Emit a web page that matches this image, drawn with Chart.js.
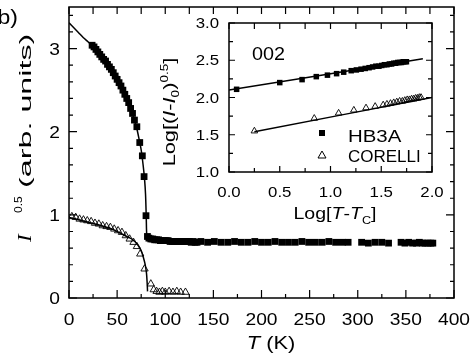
<!DOCTYPE html>
<html>
<head>
<meta charset="utf-8">
<script src="https://cdn.jsdelivr.net/npm/chart.js@4.4.1/dist/chart.umd.min.js"></script>
<style>
    html, body { margin: 0; padding: 0; background: #fff; }
    #wrap { position: relative; width: 470px; height: 354px; }
    #mainChart { position: absolute; left: 0; top: 0; }
    #insetChart { position: absolute; left: 150px; top: 10px; }
</style>
</head>
<body>
<div id="wrap">
    <canvas id="mainChart" width="470" height="354"></canvas>
    <canvas id="insetChart" width="300" height="225"></canvas>
</div>
<script>
// ---- main panel: I^0.5 vs T ----
const hb3aT = [
    24, 26, 28, 30, 32, 34, 36, 38, 40, 42,
    44, 46, 48, 50, 52, 54, 56, 58, 60, 62,
    64, 66, 68, 70.5, 73.5, 76.2, 78, 80, 81.5, 83,
    85, 87, 89, 91, 93, 95, 97, 99, 101, 103,
    105, 107, 109, 111, 113, 115, 117, 119, 121, 123,
    125, 127, 129, 131, 133, 137, 144, 151, 158, 165,
    172, 179, 186, 193, 200, 207, 214, 221, 228, 235,
    242, 249, 256, 263, 270, 277, 284, 290, 304, 311,
    318, 325, 332, 345, 349, 353, 357, 361, 364, 367,
    370, 373, 376, 378
];
const hb3aI = [
    3.04, 3.02, 2.99, 2.96, 2.93, 2.90, 2.87, 2.85, 2.81, 2.78,
    2.75, 2.71, 2.67, 2.63, 2.59, 2.55, 2.50, 2.45, 2.40, 2.35,
    2.28, 2.22, 2.14, 2.06, 1.87, 1.71, 1.46, 0.99, 0.74, 0.72,
    0.71, 0.71, 0.70, 0.70, 0.70, 0.69, 0.69, 0.69, 0.69, 0.69,
    0.68, 0.68, 0.68, 0.68, 0.68, 0.68, 0.68, 0.68, 0.68, 0.68,
    0.68, 0.67, 0.68, 0.67, 0.67, 0.68, 0.67, 0.68, 0.67, 0.67,
    0.68, 0.67, 0.67, 0.68, 0.67, 0.67, 0.68, 0.67, 0.67, 0.67,
    0.68, 0.67, 0.67, 0.67, 0.68, 0.67, 0.67, 0.67, 0.67, 0.66,
    0.67, 0.67, 0.66, 0.67, 0.66, 0.67, 0.66, 0.66, 0.67, 0.66,
    0.66, 0.66, 0.66, 0.66
];
const hb3aFitT = [0, 5, 10, 15, 20, 25, 30, 35, 40, 45, 50, 55, 60, 65, 70, 73, 75, 77, 78.5, 79.5, 80.2, 80.6, 81, 83];
const hb3aFitI = [3.31, 3.25, 3.19, 3.13, 3.08, 3.02, 2.96, 2.89, 2.81, 2.73, 2.63, 2.53, 2.40, 2.25, 2.06, 1.90, 1.78, 1.60, 1.43, 1.25, 1.00, 0.80, 0.74, 0.72];

const corelliT = [3, 7, 11, 15, 19, 23, 27, 31, 35, 39, 43, 47, 51, 55, 59, 63, 67, 70.5, 74, 78.5,
    85, 88, 91, 94, 97, 100, 104, 108, 112, 116, 121];
const corelliI = [0.98, 0.97, 0.95, 0.94, 0.93, 0.92, 0.90, 0.89, 0.87, 0.86, 0.85, 0.83, 0.81, 0.79, 0.75, 0.71, 0.67, 0.62, 0.53, 0.35,
    0.17, 0.10, 0.08, 0.07, 0.08, 0.07, 0.08, 0.07, 0.08, 0.07, 0.07];
const corelliFitT = [0, 10, 20, 30, 42.6, 50, 55, 60, 66.5, 70, 73, 75, 77, 79, 80.5, 81.2, 81.6];
const corelliFitI = [0.97, 0.94, 0.91, 0.88, 0.84, 0.80, 0.77, 0.74, 0.70, 0.66, 0.61, 0.57, 0.50, 0.41, 0.30, 0.18, 0.08];

const xMajorTicks = [0, 50, 100, 150, 200, 250, 300, 350, 400];
const xMinorTicks = [25, 75, 125, 175, 225, 275, 325, 375];
const xTickLabels = ['0', '50', '100', '150', '200', '250', '300', '350', '400'];
const yMajorTicks = [0, 1, 2, 3];
const yMinorTicks = [0.2, 0.4, 0.6, 0.8, 1.2, 1.4, 1.6, 1.8, 2.2, 2.4, 2.6, 2.8, 3.2, 3.4];
const yTickLabels = ['0', '1', '2', '3'];

// ---- inset: log-log ----
const insHb3aX = [0.075, 0.50, 0.72, 0.86, 0.97, 1.06, 1.13,
    1.204, 1.255, 1.301, 1.342, 1.380, 1.415, 1.447, 1.477, 1.505, 1.531,
    1.556, 1.580, 1.602, 1.623, 1.643, 1.663, 1.681, 1.699, 1.716, 1.732, 1.748];
const insHb3aY = [2.11, 2.20, 2.24, 2.28, 2.30, 2.32, 2.34,
    2.36, 2.37, 2.38, 2.39, 2.40, 2.41, 2.42, 2.42, 2.43, 2.44,
    2.44, 2.45, 2.45, 2.46, 2.46, 2.47, 2.47, 2.47, 2.48, 2.48, 2.48];
const insCorX = [0.25, 0.84, 1.08, 1.23, 1.35, 1.44,
    1.519, 1.556, 1.591, 1.623, 1.653, 1.681, 1.708, 1.732, 1.756, 1.778, 1.799, 1.820, 1.839, 1.857, 1.875, 1.892];
const insCorY = [1.55, 1.72, 1.79, 1.83, 1.86, 1.88,
    1.90, 1.91, 1.92, 1.93, 1.94, 1.95, 1.95, 1.96, 1.97, 1.97, 1.98, 1.98, 1.99, 1.99, 2.00, 2.00];
const insHb3aFitX = [0, 1.91];
const insHb3aFitY = [2.10, 2.52];
const insCorFitX = [0.25, 2.0];
const insCorFitY = [1.54, 2.00];

const insXMajor = [0, 0.5, 1, 1.5, 2];
const insXMinor = [0.25, 0.75, 1.25, 1.75];
const insXLabels = ['0.0', '0.5', '1.0', '1.5', '2.0'];
const insYMajor = [1, 1.5, 2, 2.5, 3];
const insYMinor = [1.25, 1.75, 2.25, 2.75];
const insYLabels = ['1.0', '1.5', '2.0', '2.5', '3.0'];

const SANS = '"Liberation Sans", Arial, sans-serif';
const SERIF = '"Liberation Serif", "Times New Roman", serif';

const pts = (xs, ys) => xs.map((v, i) => ({x: v, y: ys[i]}));

function fontOf(p, size) {
    const s = (p.sup || p.sub) ? Math.round(size * 0.65) : size;
    return (p.it ? 'italic ' : '') + s + 'px ' + (p.serif ? SERIF : SANS);
}

// text with italics / super- / subscripts, stretched a bit along its direction
function richText(ctx, parts, x, y, size, align, sx, rot) {
    ctx.save();
    ctx.translate(x, y);
    if (rot) ctx.rotate(rot);
    ctx.scale(sx, 1);
    const widths = parts.map(p => { ctx.font = fontOf(p, size); return ctx.measureText(p.t).width; });
    const total = widths.reduce((a, b) => a + b, 0);
    let cx = align === 'center' ? -total / 2 : align === 'right' ? -total : 0;
    ctx.fillStyle = '#000';
    ctx.textAlign = 'left';
    ctx.textBaseline = 'alphabetic';
    parts.forEach((p, i) => {
        ctx.font = fontOf(p, size);
        const dy = p.sup ? -size * 0.42 : p.sub ? size * 0.28 : 0;
        ctx.fillText(p.t, cx, dy);
        cx += widths[i];
    });
    ctx.restore();
}

// full box with inward ticks on all four sides
function drawFrame(chart, t) {
    const {ctx, chartArea: a, scales: {x, y}} = chart;
    ctx.save();
    ctx.strokeStyle = '#000';
    ctx.lineWidth = 1.5;
    ctx.strokeRect(a.left, a.top, a.right - a.left, a.bottom - a.top);
    ctx.lineWidth = 1.2;
    ctx.beginPath();
    const vt = (v, lb, lt) => {
        const p = x.getPixelForValue(v);
        ctx.moveTo(p, a.bottom); ctx.lineTo(p, a.bottom - lb);
        ctx.moveTo(p, a.top); ctx.lineTo(p, a.top + lt);
    };
    const ht = (v, ll, lr) => {
        const p = y.getPixelForValue(v);
        ctx.moveTo(a.left, p); ctx.lineTo(a.left + ll, p);
        ctx.moveTo(a.right, p); ctx.lineTo(a.right - lr, p);
    };
    t.xMaj.forEach(v => vt(v, t.big, t.top));
    t.xMin.forEach(v => vt(v, t.small, t.top));
    t.yMaj.forEach(v => ht(v, t.big, t.big));
    t.yMin.forEach(v => ht(v, t.small, t.small));
    ctx.stroke();
    ctx.restore();
}

const mainDecor = {
    id: 'mainDecor',
    afterDraw(chart) {
        const {ctx, scales: {x, y}} = chart;
        drawFrame(chart, {xMaj: xMajorTicks, xMin: xMinorTicks, yMaj: yMajorTicks, yMin: yMinorTicks, big: 8, small: 4, top: 7});
        xMajorTicks.forEach((v, i) => richText(ctx, [{t: xTickLabels[i]}], x.getPixelForValue(v), 325, 16, 'center', 1.2));
        yMajorTicks.forEach((v, i) => richText(ctx, [{t: yTickLabels[i]}], 60, y.getPixelForValue(v) + 6, 16, 'right', 1.2));
        richText(ctx, [{t: 'T', it: true}, {t: ' (K)'}], 271, 349, 19, 'center', 1.15);
        // y title, bottom to top: I, 0.5, (arb. units)
        const up = -Math.PI / 2;
        richText(ctx, [{t: 'I', it: true, serif: true}], 31, 242, 19, 'left', 1.2, up);
        richText(ctx, [{t: '0.5'}], 22, 213, 11, 'left', 1.1, up);
        richText(ctx, [{t: '(arb. units)'}], 31, 188, 17, 'left', 1.9, up);
        richText(ctx, [{t: 'b)'}], 18, 24, 20, 'right', 1.15);
    }
};

const insetDecor = {
    id: 'insetDecor',
    afterDraw(chart) {
        const {ctx, scales: {x, y}} = chart;
        drawFrame(chart, {xMaj: insXMajor, xMin: insXMinor, yMaj: insYMajor, yMin: insYMinor, big: 6, small: 4, top: 6});
        insXMajor.forEach((v, i) => richText(ctx, [{t: insXLabels[i]}], x.getPixelForValue(v), 187, 14, 'center', 1.2));
        insYMajor.forEach((v, i) => richText(ctx, [{t: insYLabels[i]}], 69, y.getPixelForValue(v) + 5, 14, 'right', 1.2));
        richText(ctx, [{t: 'Log['}, {t: 'T', it: true}, {t: '-'}, {t: 'T', it: true}, {t: 'C', sub: true}, {t: ']'}],
            185, 209, 17, 'center', 1.15);
        richText(ctx, [{t: 'Log[('}, {t: 'I', it: true}, {t: '-'}, {t: 'I', it: true}, {t: '0', sub: true}, {t: ')'}, {t: '0.5', sup: true}, {t: ']'}],
            25, 102, 16, 'center', 1.36, -Math.PI / 2);
        richText(ctx, [{t: '002'}], 102, 50, 18, 'left', 1.1);
        // legend
        ctx.save();
        ctx.fillStyle = '#000';
        ctx.fillRect(169, 120, 6, 6);
        ctx.strokeStyle = '#000';
        ctx.lineWidth = 1;
        ctx.beginPath();
        ctx.moveTo(172, 141); ctx.lineTo(176, 148); ctx.lineTo(168, 148); ctx.closePath();
        ctx.stroke();
        ctx.restore();
        richText(ctx, [{t: 'HB3A'}], 198, 132, 17, 'left', 1.2);
        richText(ctx, [{t: 'CORELLI'}], 198, 152, 17, 'left', 1.0);
    }
};

const lineSet = (data) => ({
    data, showLine: true, pointRadius: 0, borderColor: '#000', borderWidth: 1.5, fill: false, tension: 0.3
});

new Chart(document.getElementById('mainChart').getContext('2d'), {
    type: 'scatter',
    data: {
        datasets: [
            lineSet(pts(hb3aFitT, hb3aFitI)),
            lineSet(pts(corelliFitT, corelliFitI)),
            {data: pts(hb3aT, hb3aI), pointStyle: 'rect', pointRadius: 4.8, backgroundColor: '#000', borderColor: '#000', borderWidth: 0},
            {data: pts(corelliT, corelliI), pointStyle: 'triangle', pointRadius: 4.2, backgroundColor: 'rgba(0,0,0,0)', borderColor: '#000', borderWidth: 0.9}
        ]
    },
    options: {
        responsive: false,
        animation: false,
        layout: {padding: {left: 0, top: 7, right: 16, bottom: 0}},
        plugins: {legend: {display: false}, tooltip: {enabled: false}},
        scales: {
            x: {
                type: 'linear', min: 0, max: 400,
                grid: {display: false}, border: {display: false}, ticks: {display: false},
                afterFit: s => { s.height = 56; }
            },
            y: {
                type: 'linear', min: 0, max: 3.5,
                grid: {display: false}, border: {display: false}, ticks: {display: false},
                afterFit: s => { s.width = 69; }
            }
        }
    },
    plugins: [mainDecor]
});

new Chart(document.getElementById('insetChart').getContext('2d'), {
    type: 'scatter',
    data: {
        datasets: [
            lineSet(pts(insHb3aFitX, insHb3aFitY)),
            lineSet(pts(insCorFitX, insCorFitY)),
            {data: pts(insHb3aX, insHb3aY), pointStyle: 'rect', pointRadius: 3.9, backgroundColor: '#000', borderColor: '#000', borderWidth: 0},
            {data: pts(insCorX, insCorY), pointStyle: 'triangle', pointRadius: 3.8, backgroundColor: 'rgba(0,0,0,0)', borderColor: '#000', borderWidth: 0.9}
        ]
    },
    options: {
        responsive: false,
        animation: false,
        layout: {padding: {left: 0, top: 13, right: 18, bottom: 0}},
        plugins: {legend: {display: false}, tooltip: {enabled: false}},
        scales: {
            x: {
                type: 'linear', min: 0, max: 2,
                grid: {display: false}, border: {display: false}, ticks: {display: false},
                afterFit: s => { s.height = 63; }
            },
            y: {
                type: 'linear', min: 1, max: 3,
                grid: {display: false}, border: {display: false}, ticks: {display: false},
                afterFit: s => { s.width = 79; }
            }
        }
    },
    plugins: [insetDecor]
});
</script>
</body>
</html>
